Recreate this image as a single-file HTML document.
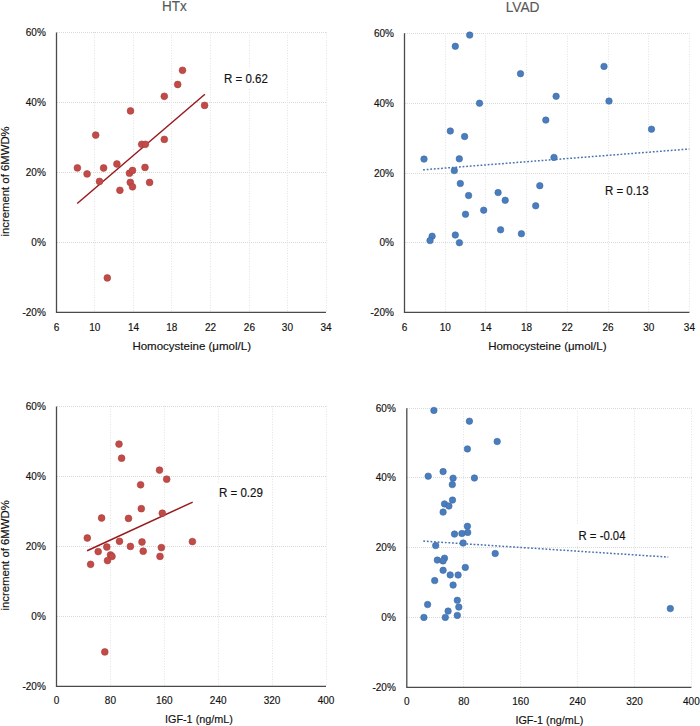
<!DOCTYPE html>
<html><head><meta charset="utf-8"><title>Scatter plots</title>
<style>
html,body{margin:0;padding:0;background:#fff;}
body{width:700px;height:726px;overflow:hidden;}
svg{display:block;font-family:"Liberation Sans", sans-serif;}
</style></head>
<body>
<svg width="700" height="726" viewBox="0 0 700 726">
<rect width="700" height="726" fill="#fff"/>
<line x1="57.00" y1="32.50" x2="327.00" y2="32.50" stroke="#d9d9d9" stroke-width="1" stroke-dasharray="1 1"/>
<line x1="57.00" y1="102.50" x2="327.00" y2="102.50" stroke="#d9d9d9" stroke-width="1" stroke-dasharray="1 1"/>
<line x1="57.00" y1="172.50" x2="327.00" y2="172.50" stroke="#d9d9d9" stroke-width="1" stroke-dasharray="1 1"/>
<line x1="57.00" y1="242.50" x2="327.00" y2="242.50" stroke="#d9d9d9" stroke-width="1" stroke-dasharray="1 1"/>
<line x1="94.50" y1="32.00" x2="94.50" y2="312.30" stroke="#e3e3e3" stroke-width="1" stroke-dasharray="1 1.6"/>
<line x1="133.50" y1="32.00" x2="133.50" y2="312.30" stroke="#e3e3e3" stroke-width="1" stroke-dasharray="1 1.6"/>
<line x1="171.50" y1="32.00" x2="171.50" y2="312.30" stroke="#e3e3e3" stroke-width="1" stroke-dasharray="1 1.6"/>
<line x1="210.50" y1="32.00" x2="210.50" y2="312.30" stroke="#e3e3e3" stroke-width="1" stroke-dasharray="1 1.6"/>
<line x1="249.50" y1="32.00" x2="249.50" y2="312.30" stroke="#e3e3e3" stroke-width="1" stroke-dasharray="1 1.6"/>
<line x1="287.50" y1="32.00" x2="287.50" y2="312.30" stroke="#e3e3e3" stroke-width="1" stroke-dasharray="1 1.6"/>
<line x1="326.50" y1="32.00" x2="326.50" y2="312.30" stroke="#e3e3e3" stroke-width="1" stroke-dasharray="1 1.6"/>
<line x1="56.50" y1="32.50" x2="56.50" y2="312.30" stroke="#4a4a4a" stroke-width="1.3"/>
<line x1="55.90" y1="312.30" x2="326.00" y2="312.30" stroke="#4a4a4a" stroke-width="1.3"/>
<text x="45.80" y="36.00" font-size="10" text-anchor="end" fill="#111111" stroke="#111111" stroke-width="0.15">60%</text>
<text x="45.80" y="105.95" font-size="10" text-anchor="end" fill="#111111" stroke="#111111" stroke-width="0.15">40%</text>
<text x="45.80" y="175.90" font-size="10" text-anchor="end" fill="#111111" stroke="#111111" stroke-width="0.15">20%</text>
<text x="45.80" y="245.85" font-size="10" text-anchor="end" fill="#111111" stroke="#111111" stroke-width="0.15">0%</text>
<text x="45.80" y="315.80" font-size="10" text-anchor="end" fill="#111111" stroke="#111111" stroke-width="0.15">-20%</text>
<text x="56.50" y="330.60" font-size="10" text-anchor="middle" fill="#111111" stroke="#111111" stroke-width="0.15">6</text>
<text x="94.70" y="330.60" font-size="10" text-anchor="middle" fill="#111111" stroke="#111111" stroke-width="0.15">10</text>
<text x="133.50" y="330.60" font-size="10" text-anchor="middle" fill="#111111" stroke="#111111" stroke-width="0.15">14</text>
<text x="171.70" y="330.60" font-size="10" text-anchor="middle" fill="#111111" stroke="#111111" stroke-width="0.15">18</text>
<text x="210.60" y="330.60" font-size="10" text-anchor="middle" fill="#111111" stroke="#111111" stroke-width="0.15">22</text>
<text x="249.40" y="330.60" font-size="10" text-anchor="middle" fill="#111111" stroke="#111111" stroke-width="0.15">26</text>
<text x="287.40" y="330.60" font-size="10" text-anchor="middle" fill="#111111" stroke="#111111" stroke-width="0.15">30</text>
<text x="326.00" y="330.60" font-size="10" text-anchor="middle" fill="#111111" stroke="#111111" stroke-width="0.15">34</text>
<line x1="405.00" y1="33.50" x2="690.00" y2="33.50" stroke="#d9d9d9" stroke-width="1" stroke-dasharray="1 1"/>
<line x1="405.00" y1="103.50" x2="690.00" y2="103.50" stroke="#d9d9d9" stroke-width="1" stroke-dasharray="1 1"/>
<line x1="405.00" y1="173.50" x2="690.00" y2="173.50" stroke="#d9d9d9" stroke-width="1" stroke-dasharray="1 1"/>
<line x1="405.00" y1="242.50" x2="690.00" y2="242.50" stroke="#d9d9d9" stroke-width="1" stroke-dasharray="1 1"/>
<line x1="445.50" y1="33.00" x2="445.50" y2="312.40" stroke="#e3e3e3" stroke-width="1" stroke-dasharray="1 1.6"/>
<line x1="485.50" y1="33.00" x2="485.50" y2="312.40" stroke="#e3e3e3" stroke-width="1" stroke-dasharray="1 1.6"/>
<line x1="526.50" y1="33.00" x2="526.50" y2="312.40" stroke="#e3e3e3" stroke-width="1" stroke-dasharray="1 1.6"/>
<line x1="567.50" y1="33.00" x2="567.50" y2="312.40" stroke="#e3e3e3" stroke-width="1" stroke-dasharray="1 1.6"/>
<line x1="608.50" y1="33.00" x2="608.50" y2="312.40" stroke="#e3e3e3" stroke-width="1" stroke-dasharray="1 1.6"/>
<line x1="648.50" y1="33.00" x2="648.50" y2="312.40" stroke="#e3e3e3" stroke-width="1" stroke-dasharray="1 1.6"/>
<line x1="689.50" y1="33.00" x2="689.50" y2="312.40" stroke="#e3e3e3" stroke-width="1" stroke-dasharray="1 1.6"/>
<line x1="404.50" y1="33.30" x2="404.50" y2="312.40" stroke="#4a4a4a" stroke-width="1.3"/>
<line x1="403.90" y1="312.40" x2="689.40" y2="312.40" stroke="#4a4a4a" stroke-width="1.3"/>
<text x="393.90" y="36.80" font-size="10" text-anchor="end" fill="#111111" stroke="#111111" stroke-width="0.15">60%</text>
<text x="393.90" y="106.70" font-size="10" text-anchor="end" fill="#111111" stroke="#111111" stroke-width="0.15">40%</text>
<text x="393.90" y="176.50" font-size="10" text-anchor="end" fill="#111111" stroke="#111111" stroke-width="0.15">20%</text>
<text x="393.90" y="246.20" font-size="10" text-anchor="end" fill="#111111" stroke="#111111" stroke-width="0.15">0%</text>
<text x="393.90" y="315.90" font-size="10" text-anchor="end" fill="#111111" stroke="#111111" stroke-width="0.15">-20%</text>
<text x="404.50" y="330.60" font-size="10" text-anchor="middle" fill="#111111" stroke="#111111" stroke-width="0.15">6</text>
<text x="445.20" y="330.60" font-size="10" text-anchor="middle" fill="#111111" stroke="#111111" stroke-width="0.15">10</text>
<text x="485.90" y="330.60" font-size="10" text-anchor="middle" fill="#111111" stroke="#111111" stroke-width="0.15">14</text>
<text x="526.60" y="330.60" font-size="10" text-anchor="middle" fill="#111111" stroke="#111111" stroke-width="0.15">18</text>
<text x="567.30" y="330.60" font-size="10" text-anchor="middle" fill="#111111" stroke="#111111" stroke-width="0.15">22</text>
<text x="608.00" y="330.60" font-size="10" text-anchor="middle" fill="#111111" stroke="#111111" stroke-width="0.15">26</text>
<text x="648.70" y="330.60" font-size="10" text-anchor="middle" fill="#111111" stroke="#111111" stroke-width="0.15">30</text>
<text x="689.40" y="330.60" font-size="10" text-anchor="middle" fill="#111111" stroke="#111111" stroke-width="0.15">34</text>
<line x1="57.00" y1="406.50" x2="327.00" y2="406.50" stroke="#d9d9d9" stroke-width="1" stroke-dasharray="1 1"/>
<line x1="57.00" y1="476.50" x2="327.00" y2="476.50" stroke="#d9d9d9" stroke-width="1" stroke-dasharray="1 1"/>
<line x1="57.00" y1="546.50" x2="327.00" y2="546.50" stroke="#d9d9d9" stroke-width="1" stroke-dasharray="1 1"/>
<line x1="57.00" y1="616.50" x2="327.00" y2="616.50" stroke="#d9d9d9" stroke-width="1" stroke-dasharray="1 1"/>
<line x1="110.50" y1="406.00" x2="110.50" y2="686.40" stroke="#e3e3e3" stroke-width="1" stroke-dasharray="1 1.6"/>
<line x1="164.50" y1="406.00" x2="164.50" y2="686.40" stroke="#e3e3e3" stroke-width="1" stroke-dasharray="1 1.6"/>
<line x1="218.50" y1="406.00" x2="218.50" y2="686.40" stroke="#e3e3e3" stroke-width="1" stroke-dasharray="1 1.6"/>
<line x1="272.50" y1="406.00" x2="272.50" y2="686.40" stroke="#e3e3e3" stroke-width="1" stroke-dasharray="1 1.6"/>
<line x1="326.50" y1="406.00" x2="326.50" y2="686.40" stroke="#e3e3e3" stroke-width="1" stroke-dasharray="1 1.6"/>
<line x1="56.50" y1="406.40" x2="56.50" y2="686.40" stroke="#4a4a4a" stroke-width="1.3"/>
<line x1="55.90" y1="686.40" x2="326.00" y2="686.40" stroke="#4a4a4a" stroke-width="1.3"/>
<text x="45.80" y="409.90" font-size="10" text-anchor="end" fill="#111111" stroke="#111111" stroke-width="0.15">60%</text>
<text x="45.80" y="479.90" font-size="10" text-anchor="end" fill="#111111" stroke="#111111" stroke-width="0.15">40%</text>
<text x="45.80" y="549.90" font-size="10" text-anchor="end" fill="#111111" stroke="#111111" stroke-width="0.15">20%</text>
<text x="45.80" y="619.90" font-size="10" text-anchor="end" fill="#111111" stroke="#111111" stroke-width="0.15">0%</text>
<text x="45.80" y="689.90" font-size="10" text-anchor="end" fill="#111111" stroke="#111111" stroke-width="0.15">-20%</text>
<text x="56.50" y="704.00" font-size="10" text-anchor="middle" fill="#111111" stroke="#111111" stroke-width="0.15">0</text>
<text x="110.40" y="704.00" font-size="10" text-anchor="middle" fill="#111111" stroke="#111111" stroke-width="0.15">80</text>
<text x="164.30" y="704.00" font-size="10" text-anchor="middle" fill="#111111" stroke="#111111" stroke-width="0.15">160</text>
<text x="218.20" y="704.00" font-size="10" text-anchor="middle" fill="#111111" stroke="#111111" stroke-width="0.15">240</text>
<text x="272.10" y="704.00" font-size="10" text-anchor="middle" fill="#111111" stroke="#111111" stroke-width="0.15">320</text>
<text x="326.00" y="704.00" font-size="10" text-anchor="middle" fill="#111111" stroke="#111111" stroke-width="0.15">400</text>
<line x1="407.00" y1="408.50" x2="692.00" y2="408.50" stroke="#d9d9d9" stroke-width="1" stroke-dasharray="1 1"/>
<line x1="407.00" y1="477.50" x2="692.00" y2="477.50" stroke="#d9d9d9" stroke-width="1" stroke-dasharray="1 1"/>
<line x1="407.00" y1="547.50" x2="692.00" y2="547.50" stroke="#d9d9d9" stroke-width="1" stroke-dasharray="1 1"/>
<line x1="407.00" y1="617.50" x2="692.00" y2="617.50" stroke="#d9d9d9" stroke-width="1" stroke-dasharray="1 1"/>
<line x1="463.50" y1="408.00" x2="463.50" y2="687.35" stroke="#e3e3e3" stroke-width="1" stroke-dasharray="1 1.6"/>
<line x1="520.50" y1="408.00" x2="520.50" y2="687.35" stroke="#e3e3e3" stroke-width="1" stroke-dasharray="1 1.6"/>
<line x1="577.50" y1="408.00" x2="577.50" y2="687.35" stroke="#e3e3e3" stroke-width="1" stroke-dasharray="1 1.6"/>
<line x1="634.50" y1="408.00" x2="634.50" y2="687.35" stroke="#e3e3e3" stroke-width="1" stroke-dasharray="1 1.6"/>
<line x1="691.50" y1="408.00" x2="691.50" y2="687.35" stroke="#e3e3e3" stroke-width="1" stroke-dasharray="1 1.6"/>
<line x1="406.80" y1="408.30" x2="406.80" y2="687.35" stroke="#4a4a4a" stroke-width="1.3"/>
<line x1="406.20" y1="687.35" x2="691.40" y2="687.35" stroke="#4a4a4a" stroke-width="1.3"/>
<text x="395.80" y="411.80" font-size="10" text-anchor="end" fill="#111111" stroke="#111111" stroke-width="0.15">60%</text>
<text x="395.80" y="481.30" font-size="10" text-anchor="end" fill="#111111" stroke="#111111" stroke-width="0.15">40%</text>
<text x="395.80" y="551.20" font-size="10" text-anchor="end" fill="#111111" stroke="#111111" stroke-width="0.15">20%</text>
<text x="395.80" y="621.00" font-size="10" text-anchor="end" fill="#111111" stroke="#111111" stroke-width="0.15">0%</text>
<text x="395.80" y="690.85" font-size="10" text-anchor="end" fill="#111111" stroke="#111111" stroke-width="0.15">-20%</text>
<text x="406.80" y="705.00" font-size="10" text-anchor="middle" fill="#111111" stroke="#111111" stroke-width="0.15">0</text>
<text x="463.72" y="705.00" font-size="10" text-anchor="middle" fill="#111111" stroke="#111111" stroke-width="0.15">80</text>
<text x="520.64" y="705.00" font-size="10" text-anchor="middle" fill="#111111" stroke="#111111" stroke-width="0.15">160</text>
<text x="577.56" y="705.00" font-size="10" text-anchor="middle" fill="#111111" stroke="#111111" stroke-width="0.15">240</text>
<text x="634.48" y="705.00" font-size="10" text-anchor="middle" fill="#111111" stroke="#111111" stroke-width="0.15">320</text>
<text x="691.40" y="705.00" font-size="10" text-anchor="middle" fill="#111111" stroke="#111111" stroke-width="0.15">400</text>
<line x1="77.2" y1="203.5" x2="204.9" y2="94.3" stroke="#981a1e" stroke-width="1.5"/>
<line x1="87.1" y1="550.7" x2="192.7" y2="502.1" stroke="#981a1e" stroke-width="1.5"/>
<line x1="423.1" y1="169.8" x2="689.3" y2="149.0" stroke="#4673b0" stroke-width="1.5" stroke-dasharray="1.8 1.8"/>
<line x1="423.3" y1="541.1" x2="668.3" y2="557.1" stroke="#4673b0" stroke-width="1.5" stroke-dasharray="1.8 1.8"/>
<circle cx="77.40" cy="167.90" r="3.4" fill="#c24b48" stroke="#a8403d" stroke-width="0.6"/>
<circle cx="87.10" cy="173.90" r="3.4" fill="#c24b48" stroke="#a8403d" stroke-width="0.6"/>
<circle cx="103.60" cy="168.00" r="3.4" fill="#c24b48" stroke="#a8403d" stroke-width="0.6"/>
<circle cx="99.50" cy="181.40" r="3.4" fill="#c24b48" stroke="#a8403d" stroke-width="0.6"/>
<circle cx="116.90" cy="164.00" r="3.4" fill="#c24b48" stroke="#a8403d" stroke-width="0.6"/>
<circle cx="119.90" cy="190.30" r="3.4" fill="#c24b48" stroke="#a8403d" stroke-width="0.6"/>
<circle cx="129.50" cy="173.20" r="3.4" fill="#c24b48" stroke="#a8403d" stroke-width="0.6"/>
<circle cx="132.50" cy="170.50" r="3.4" fill="#c24b48" stroke="#a8403d" stroke-width="0.6"/>
<circle cx="130.30" cy="182.40" r="3.4" fill="#c24b48" stroke="#a8403d" stroke-width="0.6"/>
<circle cx="132.50" cy="186.80" r="3.4" fill="#c24b48" stroke="#a8403d" stroke-width="0.6"/>
<circle cx="145.00" cy="167.40" r="3.4" fill="#c24b48" stroke="#a8403d" stroke-width="0.6"/>
<circle cx="149.60" cy="182.40" r="3.4" fill="#c24b48" stroke="#a8403d" stroke-width="0.6"/>
<circle cx="141.70" cy="144.30" r="3.4" fill="#c24b48" stroke="#a8403d" stroke-width="0.6"/>
<circle cx="145.40" cy="144.30" r="3.4" fill="#c24b48" stroke="#a8403d" stroke-width="0.6"/>
<circle cx="164.30" cy="139.40" r="3.4" fill="#c24b48" stroke="#a8403d" stroke-width="0.6"/>
<circle cx="130.50" cy="110.90" r="3.4" fill="#c24b48" stroke="#a8403d" stroke-width="0.6"/>
<circle cx="164.30" cy="96.30" r="3.4" fill="#c24b48" stroke="#a8403d" stroke-width="0.6"/>
<circle cx="177.70" cy="84.50" r="3.4" fill="#c24b48" stroke="#a8403d" stroke-width="0.6"/>
<circle cx="182.50" cy="70.30" r="3.4" fill="#c24b48" stroke="#a8403d" stroke-width="0.6"/>
<circle cx="204.60" cy="105.40" r="3.4" fill="#c24b48" stroke="#a8403d" stroke-width="0.6"/>
<circle cx="107.30" cy="277.90" r="3.4" fill="#c24b48" stroke="#a8403d" stroke-width="0.6"/>
<circle cx="95.70" cy="135.10" r="3.4" fill="#c24b48" stroke="#a8403d" stroke-width="0.6"/>
<circle cx="119.00" cy="444.10" r="3.4" fill="#c24b48" stroke="#a8403d" stroke-width="0.6"/>
<circle cx="121.60" cy="458.20" r="3.4" fill="#c24b48" stroke="#a8403d" stroke-width="0.6"/>
<circle cx="159.50" cy="470.10" r="3.4" fill="#c24b48" stroke="#a8403d" stroke-width="0.6"/>
<circle cx="166.70" cy="479.20" r="3.4" fill="#c24b48" stroke="#a8403d" stroke-width="0.6"/>
<circle cx="140.60" cy="484.80" r="3.4" fill="#c24b48" stroke="#a8403d" stroke-width="0.6"/>
<circle cx="141.30" cy="508.70" r="3.4" fill="#c24b48" stroke="#a8403d" stroke-width="0.6"/>
<circle cx="162.30" cy="513.20" r="3.4" fill="#c24b48" stroke="#a8403d" stroke-width="0.6"/>
<circle cx="101.60" cy="518.00" r="3.4" fill="#c24b48" stroke="#a8403d" stroke-width="0.6"/>
<circle cx="128.50" cy="518.40" r="3.4" fill="#c24b48" stroke="#a8403d" stroke-width="0.6"/>
<circle cx="87.30" cy="538.00" r="3.4" fill="#c24b48" stroke="#a8403d" stroke-width="0.6"/>
<circle cx="98.20" cy="551.60" r="3.4" fill="#c24b48" stroke="#a8403d" stroke-width="0.6"/>
<circle cx="106.80" cy="547.00" r="3.4" fill="#c24b48" stroke="#a8403d" stroke-width="0.6"/>
<circle cx="119.50" cy="541.30" r="3.4" fill="#c24b48" stroke="#a8403d" stroke-width="0.6"/>
<circle cx="130.40" cy="546.40" r="3.4" fill="#c24b48" stroke="#a8403d" stroke-width="0.6"/>
<circle cx="142.00" cy="542.00" r="3.4" fill="#c24b48" stroke="#a8403d" stroke-width="0.6"/>
<circle cx="143.20" cy="551.20" r="3.4" fill="#c24b48" stroke="#a8403d" stroke-width="0.6"/>
<circle cx="161.40" cy="547.60" r="3.4" fill="#c24b48" stroke="#a8403d" stroke-width="0.6"/>
<circle cx="160.00" cy="556.40" r="3.4" fill="#c24b48" stroke="#a8403d" stroke-width="0.6"/>
<circle cx="192.40" cy="541.60" r="3.4" fill="#c24b48" stroke="#a8403d" stroke-width="0.6"/>
<circle cx="110.50" cy="555.00" r="3.4" fill="#c24b48" stroke="#a8403d" stroke-width="0.6"/>
<circle cx="112.00" cy="556.40" r="3.4" fill="#c24b48" stroke="#a8403d" stroke-width="0.6"/>
<circle cx="107.50" cy="560.60" r="3.4" fill="#c24b48" stroke="#a8403d" stroke-width="0.6"/>
<circle cx="90.60" cy="564.30" r="3.4" fill="#c24b48" stroke="#a8403d" stroke-width="0.6"/>
<circle cx="104.80" cy="651.90" r="3.4" fill="#c24b48" stroke="#a8403d" stroke-width="0.6"/>
<circle cx="469.70" cy="35.10" r="3.25" fill="#4a7dbd" stroke="#3e6ba6" stroke-width="0.6"/>
<circle cx="455.30" cy="46.30" r="3.25" fill="#4a7dbd" stroke="#3e6ba6" stroke-width="0.6"/>
<circle cx="520.50" cy="73.70" r="3.25" fill="#4a7dbd" stroke="#3e6ba6" stroke-width="0.6"/>
<circle cx="556.10" cy="96.30" r="3.25" fill="#4a7dbd" stroke="#3e6ba6" stroke-width="0.6"/>
<circle cx="479.50" cy="103.20" r="3.25" fill="#4a7dbd" stroke="#3e6ba6" stroke-width="0.6"/>
<circle cx="545.80" cy="120.10" r="3.25" fill="#4a7dbd" stroke="#3e6ba6" stroke-width="0.6"/>
<circle cx="450.30" cy="131.00" r="3.25" fill="#4a7dbd" stroke="#3e6ba6" stroke-width="0.6"/>
<circle cx="464.60" cy="136.50" r="3.25" fill="#4a7dbd" stroke="#3e6ba6" stroke-width="0.6"/>
<circle cx="604.00" cy="66.40" r="3.25" fill="#4a7dbd" stroke="#3e6ba6" stroke-width="0.6"/>
<circle cx="609.00" cy="101.10" r="3.25" fill="#4a7dbd" stroke="#3e6ba6" stroke-width="0.6"/>
<circle cx="651.50" cy="129.20" r="3.25" fill="#4a7dbd" stroke="#3e6ba6" stroke-width="0.6"/>
<circle cx="424.00" cy="159.10" r="3.25" fill="#4a7dbd" stroke="#3e6ba6" stroke-width="0.6"/>
<circle cx="459.30" cy="158.80" r="3.25" fill="#4a7dbd" stroke="#3e6ba6" stroke-width="0.6"/>
<circle cx="454.30" cy="170.60" r="3.25" fill="#4a7dbd" stroke="#3e6ba6" stroke-width="0.6"/>
<circle cx="460.30" cy="183.50" r="3.25" fill="#4a7dbd" stroke="#3e6ba6" stroke-width="0.6"/>
<circle cx="468.60" cy="195.50" r="3.25" fill="#4a7dbd" stroke="#3e6ba6" stroke-width="0.6"/>
<circle cx="498.10" cy="192.60" r="3.25" fill="#4a7dbd" stroke="#3e6ba6" stroke-width="0.6"/>
<circle cx="505.20" cy="200.30" r="3.25" fill="#4a7dbd" stroke="#3e6ba6" stroke-width="0.6"/>
<circle cx="465.50" cy="214.30" r="3.25" fill="#4a7dbd" stroke="#3e6ba6" stroke-width="0.6"/>
<circle cx="483.70" cy="210.20" r="3.25" fill="#4a7dbd" stroke="#3e6ba6" stroke-width="0.6"/>
<circle cx="500.60" cy="229.80" r="3.25" fill="#4a7dbd" stroke="#3e6ba6" stroke-width="0.6"/>
<circle cx="521.40" cy="233.70" r="3.25" fill="#4a7dbd" stroke="#3e6ba6" stroke-width="0.6"/>
<circle cx="432.10" cy="236.20" r="3.25" fill="#4a7dbd" stroke="#3e6ba6" stroke-width="0.6"/>
<circle cx="430.00" cy="240.60" r="3.25" fill="#4a7dbd" stroke="#3e6ba6" stroke-width="0.6"/>
<circle cx="455.30" cy="235.00" r="3.25" fill="#4a7dbd" stroke="#3e6ba6" stroke-width="0.6"/>
<circle cx="459.40" cy="242.70" r="3.25" fill="#4a7dbd" stroke="#3e6ba6" stroke-width="0.6"/>
<circle cx="554.00" cy="157.40" r="3.25" fill="#4a7dbd" stroke="#3e6ba6" stroke-width="0.6"/>
<circle cx="539.80" cy="185.70" r="3.25" fill="#4a7dbd" stroke="#3e6ba6" stroke-width="0.6"/>
<circle cx="535.70" cy="205.80" r="3.25" fill="#4a7dbd" stroke="#3e6ba6" stroke-width="0.6"/>
<circle cx="433.90" cy="410.40" r="3.25" fill="#4a7dbd" stroke="#3e6ba6" stroke-width="0.6"/>
<circle cx="469.40" cy="421.20" r="3.25" fill="#4a7dbd" stroke="#3e6ba6" stroke-width="0.6"/>
<circle cx="497.20" cy="441.50" r="3.25" fill="#4a7dbd" stroke="#3e6ba6" stroke-width="0.6"/>
<circle cx="467.40" cy="448.90" r="3.25" fill="#4a7dbd" stroke="#3e6ba6" stroke-width="0.6"/>
<circle cx="443.10" cy="471.60" r="3.25" fill="#4a7dbd" stroke="#3e6ba6" stroke-width="0.6"/>
<circle cx="428.20" cy="476.20" r="3.25" fill="#4a7dbd" stroke="#3e6ba6" stroke-width="0.6"/>
<circle cx="453.10" cy="478.20" r="3.25" fill="#4a7dbd" stroke="#3e6ba6" stroke-width="0.6"/>
<circle cx="474.40" cy="478.00" r="3.25" fill="#4a7dbd" stroke="#3e6ba6" stroke-width="0.6"/>
<circle cx="452.30" cy="484.60" r="3.25" fill="#4a7dbd" stroke="#3e6ba6" stroke-width="0.6"/>
<circle cx="452.50" cy="500.10" r="3.25" fill="#4a7dbd" stroke="#3e6ba6" stroke-width="0.6"/>
<circle cx="444.50" cy="503.90" r="3.25" fill="#4a7dbd" stroke="#3e6ba6" stroke-width="0.6"/>
<circle cx="448.90" cy="506.00" r="3.25" fill="#4a7dbd" stroke="#3e6ba6" stroke-width="0.6"/>
<circle cx="443.10" cy="512.10" r="3.25" fill="#4a7dbd" stroke="#3e6ba6" stroke-width="0.6"/>
<circle cx="467.40" cy="526.30" r="3.25" fill="#4a7dbd" stroke="#3e6ba6" stroke-width="0.6"/>
<circle cx="467.70" cy="532.40" r="3.25" fill="#4a7dbd" stroke="#3e6ba6" stroke-width="0.6"/>
<circle cx="461.90" cy="533.50" r="3.25" fill="#4a7dbd" stroke="#3e6ba6" stroke-width="0.6"/>
<circle cx="454.50" cy="534.10" r="3.25" fill="#4a7dbd" stroke="#3e6ba6" stroke-width="0.6"/>
<circle cx="463.10" cy="543.00" r="3.25" fill="#4a7dbd" stroke="#3e6ba6" stroke-width="0.6"/>
<circle cx="495.20" cy="553.50" r="3.25" fill="#4a7dbd" stroke="#3e6ba6" stroke-width="0.6"/>
<circle cx="435.70" cy="545.60" r="3.25" fill="#4a7dbd" stroke="#3e6ba6" stroke-width="0.6"/>
<circle cx="437.30" cy="560.10" r="3.25" fill="#4a7dbd" stroke="#3e6ba6" stroke-width="0.6"/>
<circle cx="444.50" cy="558.20" r="3.25" fill="#4a7dbd" stroke="#3e6ba6" stroke-width="0.6"/>
<circle cx="443.00" cy="560.90" r="3.25" fill="#4a7dbd" stroke="#3e6ba6" stroke-width="0.6"/>
<circle cx="465.30" cy="567.40" r="3.25" fill="#4a7dbd" stroke="#3e6ba6" stroke-width="0.6"/>
<circle cx="443.10" cy="570.30" r="3.25" fill="#4a7dbd" stroke="#3e6ba6" stroke-width="0.6"/>
<circle cx="450.20" cy="574.90" r="3.25" fill="#4a7dbd" stroke="#3e6ba6" stroke-width="0.6"/>
<circle cx="458.10" cy="575.00" r="3.25" fill="#4a7dbd" stroke="#3e6ba6" stroke-width="0.6"/>
<circle cx="434.70" cy="580.60" r="3.25" fill="#4a7dbd" stroke="#3e6ba6" stroke-width="0.6"/>
<circle cx="453.10" cy="585.10" r="3.25" fill="#4a7dbd" stroke="#3e6ba6" stroke-width="0.6"/>
<circle cx="457.30" cy="600.30" r="3.25" fill="#4a7dbd" stroke="#3e6ba6" stroke-width="0.6"/>
<circle cx="427.60" cy="604.50" r="3.25" fill="#4a7dbd" stroke="#3e6ba6" stroke-width="0.6"/>
<circle cx="458.80" cy="607.10" r="3.25" fill="#4a7dbd" stroke="#3e6ba6" stroke-width="0.6"/>
<circle cx="448.10" cy="611.10" r="3.25" fill="#4a7dbd" stroke="#3e6ba6" stroke-width="0.6"/>
<circle cx="457.30" cy="615.40" r="3.25" fill="#4a7dbd" stroke="#3e6ba6" stroke-width="0.6"/>
<circle cx="423.90" cy="617.40" r="3.25" fill="#4a7dbd" stroke="#3e6ba6" stroke-width="0.6"/>
<circle cx="445.30" cy="617.40" r="3.25" fill="#4a7dbd" stroke="#3e6ba6" stroke-width="0.6"/>
<circle cx="670.30" cy="608.60" r="3.25" fill="#4a7dbd" stroke="#3e6ba6" stroke-width="0.6"/>
<text x="161.90" y="10.90" font-size="15.5" text-anchor="start" fill="#595959" stroke="#595959" stroke-width="0.15" textLength="24.80" lengthAdjust="spacingAndGlyphs">HTx</text>
<text x="505.70" y="11.70" font-size="15.5" text-anchor="start" fill="#595959" stroke="#595959" stroke-width="0.15" textLength="33.80" lengthAdjust="spacingAndGlyphs">LVAD</text>
<text x="132.40" y="350.00" font-size="11" text-anchor="start" fill="#111111" stroke="#111111" stroke-width="0.15" textLength="118.60" lengthAdjust="spacingAndGlyphs">Homocysteine (μmol/L)</text>
<text x="488.20" y="350.00" font-size="11" text-anchor="start" fill="#111111" stroke="#111111" stroke-width="0.15" textLength="118.30" lengthAdjust="spacingAndGlyphs">Homocysteine (μmol/L)</text>
<text x="165.00" y="723.40" font-size="11" text-anchor="start" fill="#111111" stroke="#111111" stroke-width="0.15" textLength="67.90" lengthAdjust="spacingAndGlyphs">IGF-1 (ng/mL)</text>
<text x="515.40" y="723.60" font-size="11" text-anchor="start" fill="#111111" stroke="#111111" stroke-width="0.15" textLength="67.90" lengthAdjust="spacingAndGlyphs">IGF-1 (ng/mL)</text>
<text transform="translate(8.8 236.6) rotate(-90)" font-size="10.5" fill="#111111" stroke="#111111" stroke-width="0.15" textLength="110.3" lengthAdjust="spacingAndGlyphs">increment of 6MWD%</text>
<text transform="translate(8.8 610.6) rotate(-90)" font-size="10.5" fill="#111111" stroke="#111111" stroke-width="0.15" textLength="110.4" lengthAdjust="spacingAndGlyphs">increment of 6MWD%</text>
<rect x="219" y="68.3" width="54" height="19.6" fill="#fff"/>
<rect x="601" y="180" width="52" height="19.3" fill="#fff"/>
<rect x="214" y="483.4" width="54" height="19.5" fill="#fff"/>
<rect x="573" y="524" width="58" height="19.5" fill="#fff"/>
<text x="224.00" y="82.80" font-size="12" text-anchor="start" fill="#111111" stroke="#111111" stroke-width="0.15" textLength="43.80" lengthAdjust="spacingAndGlyphs">R = 0.62</text>
<text x="605.00" y="195.40" font-size="12" text-anchor="start" fill="#111111" stroke="#111111" stroke-width="0.15" textLength="43.60" lengthAdjust="spacingAndGlyphs">R = 0.13</text>
<text x="218.90" y="496.90" font-size="12" text-anchor="start" fill="#111111" stroke="#111111" stroke-width="0.15" textLength="44.00" lengthAdjust="spacingAndGlyphs">R = 0.29</text>
<text x="578.50" y="539.50" font-size="12" text-anchor="start" fill="#111111" stroke="#111111" stroke-width="0.15" textLength="47.00" lengthAdjust="spacingAndGlyphs">R = -0.04</text>
</svg>
</body></html>
